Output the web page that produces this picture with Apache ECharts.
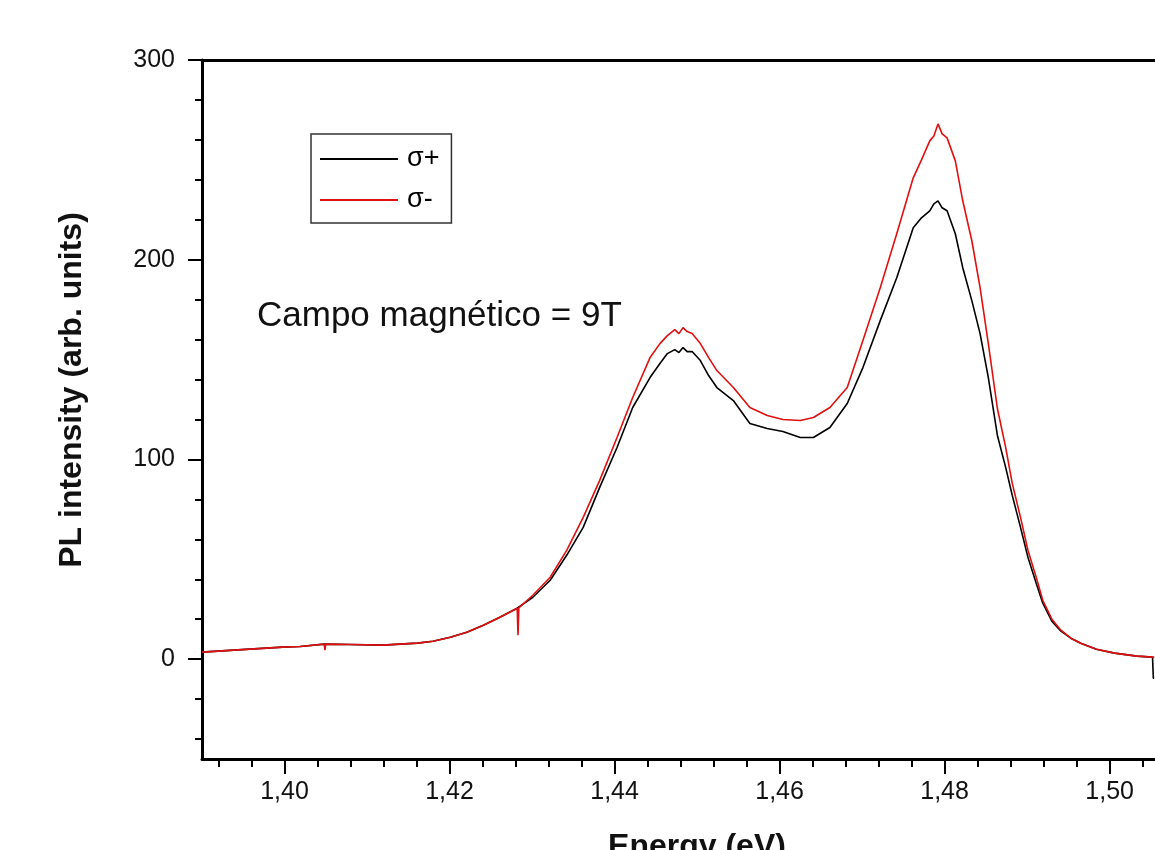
<!DOCTYPE html>
<html>
<head>
<meta charset="utf-8">
<script src="https://cdn.jsdelivr.net/npm/echarts@6/dist/echarts.min.js"></script>
<style>
  html, body { margin: 0; padding: 0; background: #fff; }
  #chart { width: 1155px; height: 850px; }
</style>
</head>
<body>
<div id="chart"></div>
<script>
// Energy (eV) sample points
const energy = [
  1.3900, 1.3958, 1.3998, 1.4019, 1.4048, 1.4049, 1.4050, 1.4079, 1.4119, 1.4161,
  1.4180, 1.4201, 1.4221, 1.4241, 1.4261, 1.4282, 1.4283, 1.4284, 1.4301, 1.4322,
  1.4342, 1.4362, 1.4382, 1.4403, 1.4422, 1.4443, 1.4455, 1.4464, 1.4473, 1.4478,
  1.4483, 1.4488, 1.4494, 1.4504, 1.4514, 1.4524, 1.4544, 1.4564, 1.4585, 1.4604,
  1.4625, 1.4641, 1.4661, 1.4682, 1.4701, 1.4722, 1.4742, 1.4762, 1.4772, 1.4782,
  1.4787, 1.4792, 1.4797, 1.4803, 1.4813, 1.4822, 1.4833, 1.4843, 1.4853, 1.4864,
  1.4874, 1.4882, 1.4892, 1.4901, 1.4911, 1.4919, 1.4930, 1.4941, 1.4953, 1.4965,
  1.4984, 1.5006, 1.5033, 1.5052, 1.5053, 1.5054
];
// σ+ (black)
const sigmaPlus = [
  3.5, 5.0, 6.0, 6.3, 7.5, 7.5, 7.5, 7.3, 7.0, 8.0,
  9.0, 11.0, 13.5, 17.0, 21.0, 25.5, 25.6, 25.7, 31.0, 39.5,
  52.0, 66.0, 86.0, 106.0, 126.0, 141.0, 148.0, 153.0, 155.0, 153.5,
  156.0, 154.0, 154.0, 149.5, 142.0, 136.0, 129.5, 118.0, 115.5, 114.0,
  111.0, 111.0, 116.0, 128.0, 146.0, 169.5, 191.0, 216.0, 221.0, 224.5,
  228.0, 229.5, 226.0, 224.5, 213.0, 196.0, 179.5, 163.0, 141.0, 112.0,
  96.0, 82.0, 66.0, 51.0, 38.0, 28.0, 19.0, 14.0, 10.5, 8.0,
  5.0, 3.0, 1.5, 1.0, -9.5, -9.5
];
// σ- (red)
const sigmaMinus = [
  3.5, 5.0, 6.0, 6.3, 7.5, 4.5, 7.5, 7.3, 7.0, 8.0,
  9.0, 11.0, 13.5, 17.0, 21.0, 25.5, 12.0, 25.7, 32.0, 41.0,
  54.5, 71.0, 89.5, 111.0, 131.0, 151.0, 158.0, 162.0, 165.0, 163.0,
  166.0, 164.0, 163.0, 158.0, 151.0, 144.5, 136.0, 126.0, 122.0, 120.0,
  119.5, 121.0, 126.0, 136.0, 159.5, 186.0, 213.0, 241.0, 250.0, 259.5,
  262.0, 268.0, 263.0, 261.0, 249.5, 229.5, 209.5, 186.0, 158.0, 125.5,
  106.0, 88.0, 71.0, 54.5, 41.0, 29.5, 20.0, 14.5, 10.5, 8.0,
  5.0, 3.0, 1.5, 1.0, 1.0, 1.0
];
const seriesNames = ['σ+', 'σ-'];
const xMajorTicks = [1.40, 1.42, 1.44, 1.46, 1.48, 1.50];
const yMajorTicks = [0, 100, 200, 300];
const xRange = [1.39, 1.5055];
const yRange = [-50, 300];
const xTitle = 'Energy (eV)';
const yTitle = 'PL intensity (arb. units)';
const annotation = 'Campo magnético = 9T';

// minor tick positions (5 subdivisions between majors)
function minorTicks(majors, lo, hi, sub) {
  const step = (majors[1] - majors[0]) / sub;
  const out = [];
  const start = majors[0] - Math.floor((majors[0] - lo) / step + 1e-9) * step;
  for (let v = start; v <= hi + 1e-9; v += step) {
    const r = Math.round(v * 1e6) / 1e6;
    if (!majors.some(m => Math.abs(m - r) < step / 10)) out.push(r);
  }
  return out;
}
const xMinor = minorTicks(xMajorTicks, xRange[0], xRange[1], 5);
const yMinor = minorTicks(yMajorTicks, yRange[0], yRange[1], 5);

const FONT = "'Liberation Sans', Arial, sans-serif";
const chart = echarts.init(document.getElementById('chart'), null, { renderer: 'canvas' });

const pairs = (ys) => energy.map((e, i) => [e, ys[i]]);

chart.setOption({
  animation: false,
  backgroundColor: '#fff',
  grid: { left: 202, top: 60, right: 0, height: 699 },
  legend: {
    data: seriesNames,
    orient: 'vertical',
    left: 311, top: 134,
    icon: 'rect', itemWidth: 78, itemHeight: 2, itemGap: 13,
    padding: [11, 12, 9, 9],
    borderColor: '#333', borderWidth: 1.5,
    textStyle: { fontFamily: FONT, fontSize: 27, color: '#000', lineHeight: 28, padding: [0, 0, 0, 4] }
  },
  xAxis: [
    {
      type: 'value', min: xRange[0], max: xRange[1], position: 'bottom',
      axisLine: { show: true, onZero: false, lineStyle: { color: '#000', width: 3 } },
      axisTick: { show: true, inside: false, length: 15, lineStyle: { color: '#000', width: 2 }, customValues: xMajorTicks },
      axisLabel: {
        show: true, margin: 21, customValues: xMajorTicks,
        fontFamily: FONT, fontSize: 25, color: '#111',
        formatter: v => v.toFixed(2).replace('.', ',')
      },
      splitLine: { show: false }
    },
    {
      type: 'value', min: xRange[0], max: xRange[1], position: 'bottom',
      axisLine: { show: false, onZero: false },
      axisTick: { show: true, inside: false, length: 8, lineStyle: { color: '#000', width: 2 }, customValues: xMinor },
      axisLabel: { show: false },
      splitLine: { show: false }
    },
    {
      type: 'value', min: xRange[0], max: xRange[1], position: 'top',
      axisLine: { show: true, onZero: false, lineStyle: { color: '#000', width: 3 } },
      axisTick: { show: false },
      axisLabel: { show: false },
      splitLine: { show: false }
    }
  ],
  yAxis: [
    {
      type: 'value', min: yRange[0], max: yRange[1], position: 'left',
      axisLine: { show: true, onZero: false, lineStyle: { color: '#000', width: 3 } },
      axisTick: { show: true, inside: false, length: 14, lineStyle: { color: '#000', width: 2 }, customValues: yMajorTicks },
      axisLabel: {
        show: true, margin: 27, customValues: yMajorTicks,
        fontFamily: FONT, fontSize: 25, color: '#111'
      },
      splitLine: { show: false }
    },
    {
      type: 'value', min: yRange[0], max: yRange[1], position: 'left',
      axisLine: { show: false, onZero: false },
      axisTick: { show: true, inside: false, length: 7, lineStyle: { color: '#000', width: 2 }, customValues: yMinor },
      axisLabel: { show: false },
      splitLine: { show: false }
    }
  ],
  series: [
    {
      name: seriesNames[0], type: 'line', xAxisIndex: 0, yAxisIndex: 0,
      data: pairs(sigmaPlus), showSymbol: false, symbol: 'none',
      lineStyle: { color: '#000', width: 1.6 }, itemStyle: { color: '#000' }, z: 2
    },
    {
      name: seriesNames[1], type: 'line', xAxisIndex: 0, yAxisIndex: 0,
      data: pairs(sigmaMinus), showSymbol: false, symbol: 'none',
      lineStyle: { color: '#e01010', width: 1.6 }, itemStyle: { color: '#e01010' }, z: 3
    }
  ],
  graphic: [
    {
      type: 'text', x: 257, y: 316,
      style: { text: annotation, font: `35px ${FONT}`, fill: '#111', textAlign: 'left', textVerticalAlign: 'middle', verticalAlign: 'middle' }
    },
    {
      type: 'text', x: 72, y: 390, rotation: Math.PI / 2,
      style: { text: yTitle, font: `bold 32px ${FONT}`, fill: '#111', textAlign: 'center', textVerticalAlign: 'middle', verticalAlign: 'middle' }
    },
    {
      type: 'text', x: 697, y: 847,
      style: { text: xTitle, font: `bold 32px ${FONT}`, fill: '#111', textAlign: 'center', textVerticalAlign: 'middle', verticalAlign: 'middle' }
    }
  ]
});
</script>
</body>
</html>
